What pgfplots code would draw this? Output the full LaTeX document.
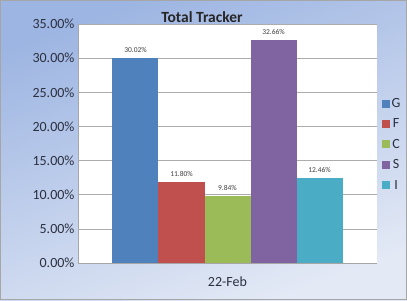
\documentclass[border=0pt]{standalone}
\usepackage{pgfplots}
\pgfplotsset{compat=1.18}
\usepackage{fontspec}
\setmainfont{Carlito}
\definecolor{cG}{HTML}{4F81BD}
\definecolor{cF}{HTML}{C0504D}
\definecolor{cC}{HTML}{9BBB59}
\definecolor{cS}{HTML}{8064A2}
\definecolor{cI}{HTML}{4BACC6}
\definecolor{bgtop}{HTML}{9DB5E2}
\definecolor{bgbot}{HTML}{E3E9F5}
\definecolor{txt}{HTML}{2B3040}
\begin{document}
\begin{tikzpicture}[x=1pt,y=1pt]
\shade[top color=bgtop, bottom color=bgbot, shading angle=20] (0,0) rectangle (407,300);
\draw[gray!70, line width=0.8pt] (0.4,0.4) rectangle (406.6,299.6);
\node[font=\bfseries\fontsize{15.5}{15.5}\selectfont, text=black!85] at (202,283) {Total Tracker};
\begin{axis}[
  at={(78pt,37pt)}, anchor=south west,
  scale only axis, width=299pt, height=239pt,
  axis background/.style={fill=white},
  ybar=0pt, bar width=46pt,
  xmin=-1, xmax=1, ymin=0, ymax=35,
  ytick={0,5,...,35},
  yticklabel={\pgfmathprintnumber[fixed,fixed zerofill,precision=2]{\tick}\%},
  /pgf/number format/assume math mode=true,
  ymajorgrids, grid style={gray!65, line width=0.6pt},
  xtick={0}, xticklabels={22-Feb},
  extra x ticks={-1,1}, extra x tick labels={},
  extra x tick style={major tick length=4pt, tick style={gray!70, draw=gray!70}, grid=none},
  xtick style={draw=none},
  ytick style={draw=none},
  tick label style={font=\fontsize{14}{14}\selectfont, text=txt},
  xticklabel style={yshift=-6pt},
  axis x line*=bottom, axis y line*=left,
  axis line style={gray!70, line width=0.6pt},
  x axis line style={-}, y axis line style={-},
  nodes near coords,
  point meta=explicit symbolic,
  every node near coord/.append style={font=\fontsize{7.5}{7.5}\selectfont, text=black!75, yshift=2pt},
  legend style={at={(1.015,0.697)}, anchor=north west, draw=none, fill=none,
    font=\fontsize{14}{14}\selectfont, text=txt, row sep=5.8pt,
    inner xsep=0pt, inner ysep=0pt},
  legend image code/.code={\fill[#1] (0pt,-3.8pt) rectangle (8pt,4.2pt);},
]
\addplot[fill=cG, draw=none] coordinates {(0,30.02) [30.02\%]};
\addplot[fill=cF, draw=none] coordinates {(0,11.80) [11.80\%]};
\addplot[fill=cC, draw=none] coordinates {(0,9.84) [9.84\%]};
\addplot[fill=cS, draw=none] coordinates {(0,32.66) [32.66\%]};
\addplot[fill=cI, draw=none] coordinates {(0,12.46) [12.46\%]};
\legend{G,F,C,S,I}
\end{axis}
\end{tikzpicture}
\end{document}
